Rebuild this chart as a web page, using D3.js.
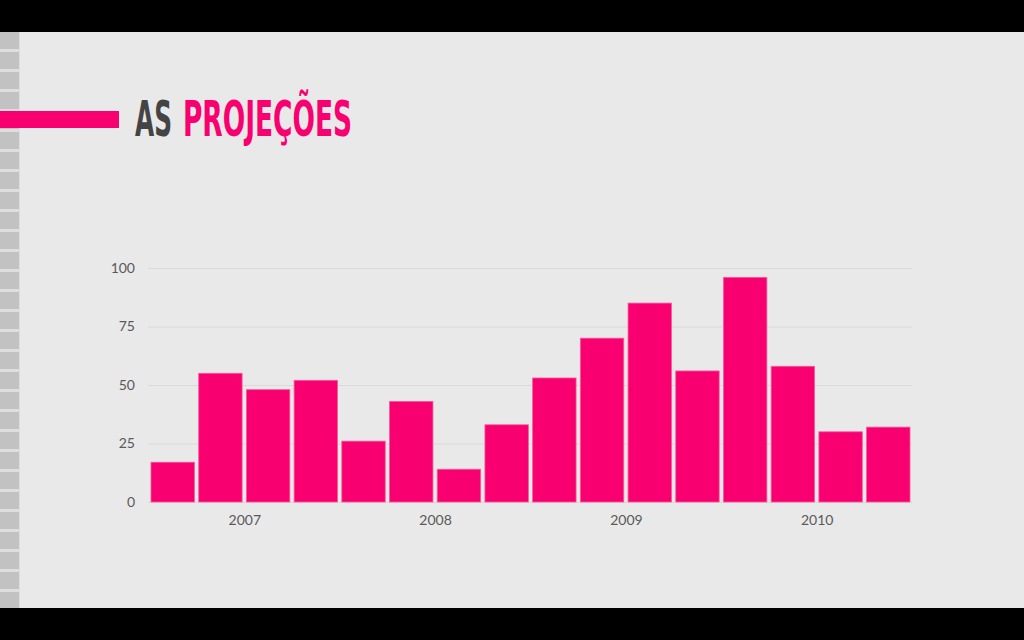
<!DOCTYPE html>
<html>
<head>
<meta charset="utf-8">
<script src="https://cdn.jsdelivr.net/npm/d3@7"></script>
<style>
  html, body { margin: 0; padding: 0; background: #000; }
  svg { display: block; }
</style>
</head>
<body>
<svg id="chart" width="1024" height="640"></svg>
<script>
// Quarterly projections, 2007–2010
const quarters = [
  "2007 T1", "2007 T2", "2007 T3", "2007 T4",
  "2008 T1", "2008 T2", "2008 T3", "2008 T4",
  "2009 T1", "2009 T2", "2009 T3", "2009 T4",
  "2010 T1", "2010 T2", "2010 T3", "2010 T4"
];
const values = [17, 55, 48, 52, 26, 43, 14, 33, 53, 70, 85, 56, 96, 58, 30, 32];
const years = ["2007", "2008", "2009", "2010"];
const yTicks = [0, 25, 50, 75, 100];

const pink = "#f8006f";
const svg = d3.select("#chart");

// Slide frame: black bands top and bottom, light panel between
svg.append("rect").attr("x", 0).attr("y", 0).attr("width", 1024).attr("height", 640).attr("fill", "#000");
svg.append("rect").attr("x", 0).attr("y", 32).attr("width", 1024).attr("height", 576).attr("fill", "#e9e9e9");

// Film-strip perforations on the left edge
const strip = svg.append("g");
strip.append("rect").attr("x", 0).attr("y", 32).attr("width", 20).attr("height", 576).attr("fill", "#dedede");
d3.range(32, 608, 20).forEach(y0 => {
  strip.append("rect")
    .attr("x", 0).attr("y", y0)
    .attr("width", 19).attr("height", Math.min(17, 608 - y0))
    .attr("fill", "#c2c2c2");
});

// Title with accent bar; each word is squeezed horizontally to a condensed look
svg.append("rect").attr("x", 0).attr("y", 111).attr("width", 119).attr("height", 17).attr("fill", pink);
const titleFont = "'Liberation Sans Narrow', 'DejaVu Sans Condensed', sans-serif";
function condensedWord(word, color, x0, width) {
  const t = svg.append("text")
    .attr("font-family", titleFont).attr("font-weight", "bold").attr("font-size", 50)
    .attr("fill", color).text(word);
  const natural = t.node().getComputedTextLength();
  t.attr("transform", `translate(${x0},136) scale(${width / natural},1)`);
}
condensedWord("AS", "#444", 135, 37);
condensedWord("PROJEÇÕES", pink, 183, 169);

// Chart scales
const x = d3.scaleBand().domain(quarters).range([151, 910]).paddingInner(0.09).paddingOuter(0);
const y = d3.scaleLinear().domain([0, 100]).range([502, 268]);

const font = "Lato, 'Open Sans', sans-serif";

// Gridlines and y labels
const yAxis = svg.append("g")
  .attr("transform", "translate(148,0)")
  .call(d3.axisLeft(y).tickValues(yTicks).tickSize(-764).tickPadding(13));
yAxis.select(".domain").remove();
yAxis.selectAll(".tick line").attr("stroke", "#d9d9d9").attr("stroke-width", 1);
yAxis.selectAll(".tick text")
  .attr("font-family", font).attr("font-size", 14).attr("fill", "#5a5a5a");

// Bars
svg.append("g").selectAll("rect")
  .data(values)
  .join("rect")
  .attr("x", (d, i) => x(quarters[i]))
  .attr("y", d => y(d))
  .attr("width", x.bandwidth())
  .attr("height", d => y(0) - y(d))
  .attr("fill", pink)
  .attr("stroke", "#f7589b")
  .attr("stroke-width", 0.8);

// Year labels centred under each group of four quarters
const yearCenter = yr => {
  const qs = quarters.filter(q => q.startsWith(yr));
  return (x(qs[0]) + x(qs[qs.length - 1]) + x.bandwidth()) / 2;
};
const xYear = d3.scaleOrdinal().domain(years).range(years.map(yearCenter));
const xAxis = svg.append("g")
  .attr("transform", "translate(0,502)")
  .call(d3.axisBottom(xYear).tickSize(0).tickPadding(13));
xAxis.select(".domain").remove();
xAxis.selectAll(".tick text")
  .attr("font-family", font).attr("font-size", 14).attr("fill", "#5a5a5a");
</script>
</body>
</html>
